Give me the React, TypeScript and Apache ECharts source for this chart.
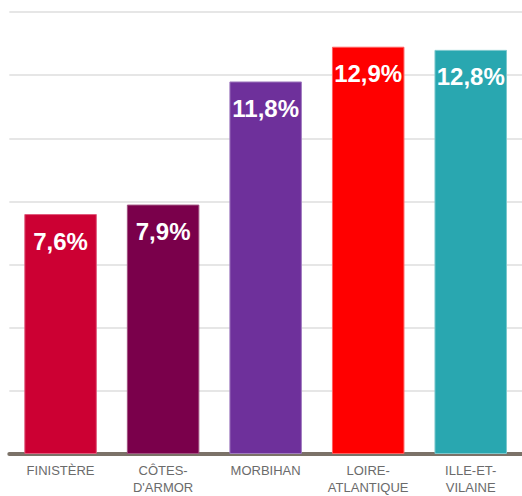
import React, { useEffect, useRef } from "react";
import * as echarts from "echarts";

const categories = ["FINISTÈRE", "CÔTES-\nD'ARMOR", "MORBIHAN", "LOIRE-\nATLANTIQUE", "ILLE-ET-\nVILAINE"];
const values = [7.6, 7.9, 11.8, 12.9, 12.8];
const colors = ["#cc0033", "#7a004b", "#6e309b", "#ff0000", "#29a7b0"];
const borderColors = ["#e05a7c", "#a0507f", "#a07cc0", "#ff6060", "#7cc8cd"];

export default function App() {
  const ref = useRef<HTMLDivElement>(null);
  useEffect(() => {
    document.body.style.margin = "0";
    const chart = echarts.init(ref.current!, null, { renderer: "svg" });
    chart.setOption({
      animation: false,
      grid: { left: 9.3, right: -3.4, top: 12, bottom: 35, containLabel: false },
      xAxis: {
        type: "category",
        data: categories,
        axisLine: { show: true, lineStyle: { color: "#7b7268", width: 4 } },
        axisTick: { show: false },
        axisLabel: {
          color: "#6b6b6b",
          fontFamily: "Liberation Sans, Arial, sans-serif",
          fontSize: 13,
          lineHeight: 17,
          margin: 8,
          interval: 0,
        },
      },
      yAxis: {
        type: "value",
        min: 0,
        max: 14,
        interval: 2,
        axisLabel: { show: false },
        axisLine: { show: false },
        axisTick: { show: false },
        splitLine: { lineStyle: { color: "#dedede", width: 1.5 } },
      },
      series: [
        {
          type: "bar",
          barWidth: "70.7%",
          data: values.map((v, i) => ({
            value: v,
            itemStyle: { color: colors[i], borderColor: borderColors[i], borderWidth: 1 },
          })),
          label: {
            show: true,
            position: "insideTop",
            distance: 15,
            color: "#ffffff",
            fontWeight: "bold",
            fontSize: 24,
            fontFamily: "Liberation Sans, Arial, sans-serif",
            formatter: (p: any) => String(p.value).replace(".", ",") + "%",
          },
        },
      ],
    });
    return () => chart.dispose();
  }, []);
  return <div ref={ref} style={{ width: 522, height: 496 }} />;
}
